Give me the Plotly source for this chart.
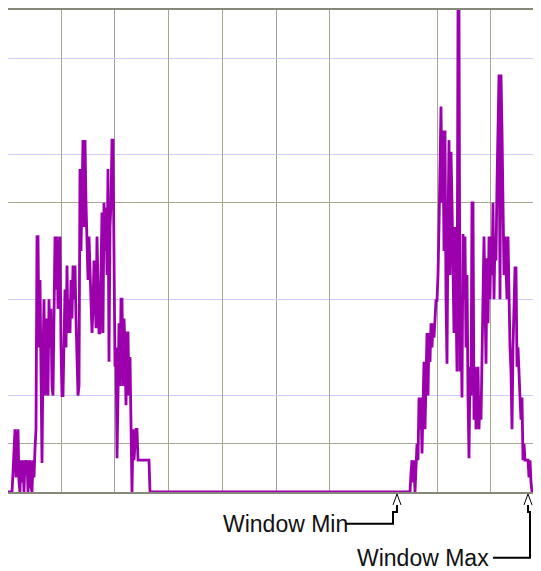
import plotly.graph_objects as go

# ---- data (channel = horizontal bin, count in % of full scale) ----
n_channels = 535
left_start = 5
left_counts = [0, 4, 11, 13, 3, 9, 13, 2, 0, 6.6, 2, 6.6, 0, 6.6, 4, 6.6, 0, 5, 6.6, 1,
               0, 6.6, 3, 9, 13, 53, 53, 30, 44, 25, 6, 28, 40, 20, 36, 26, 20, 40, 30, 38,
               22, 20, 34, 53, 42, 53, 38, 48, 53, 30, 20, 20, 36, 42, 30, 47, 33, 40, 33, 44,
               36, 47, 40, 47, 36, 30, 20, 22, 67, 50, 67, 73, 55, 73, 60, 53, 44, 53, 46, 40,
               33, 38, 48, 42, 34, 53, 40, 33, 33, 50, 58, 33, 60, 50, 59, 45, 67, 27, 55, 60,
               73, 73, 36, 26, 30, 7, 20, 35, 22, 40, 40, 22, 36, 30, 18, 33, 33, 20, 28, 13,
               0, 13, 6.6, 10, 13, 13, 6.6, 6.6, 6.6, 6.6, 6.6, 6.6, 6.6, 6.6, 6.6, 6.6, 6.6, 6.6, 0]
right_start = 403
right_counts = [0, 4, 6.6, 2, 6.6, 0, 6.6, 10, 6.6, 19.6, 13, 19.6, 8, 19.6, 27, 13, 25, 33, 20, 33,
                27, 35, 30, 35, 32, 35, 39.7, 39.7, 45, 55, 69, 80, 60, 75, 50, 75, 40, 26.6, 55, 73,
                45, 70.6, 60, 45, 33, 55, 35, 25, 100, 100, 25, 35, 19.6, 53.5, 40, 53, 30, 45, 20, 7,
                26, 20, 60, 60, 15, 26, 13, 22, 26, 13, 20, 15, 26, 35, 53, 40, 26.6, 48.5, 35, 53,
                40, 53, 45, 60, 40, 53, 48, 64, 82, 86.6, 40, 86.6, 75, 60, 45, 53, 46, 40, 53, 35,
                30, 25, 13, 30, 40, 46.5, 46.5, 26, 30, 22, 19.6, 15, 19.6, 6.6, 10, 6.6, 6.6, 6.6, 6.6, 3,
                6.6, 2, 0]

x_major_grid = [54, 161, 215, 322, 430, 483]
x_minor_grid = [107, 269]
y_major_grid = [10, 60]
y_minor_grid = [20, 40, 70, 90]

window_min = 390
window_max = 521
window_labels = ["Window Min", "Window Max"]

counts = [0.0] * n_channels
for i, v in enumerate(left_counts):
    counts[left_start + i] = v
for i, v in enumerate(right_counts):
    counts[right_start + i] = v
channels = list(range(n_channels))

# page has an 8px body margin; figure occupies page px 8..541 x 8..571
W, H = 533, 563
ML, MT, MR, MB = 0, 0, 0, 79
X0, X1 = 1, n_channels - 1
PLOT_BOTTOM_PAGE = 492
PLOT_H = 484


def py(p):  # page pixel y -> paper y
    return (PLOT_BOTTOM_PAGE - p) / PLOT_H


def pxc(c):  # channel -> paper x
    return (c - X0) / (X1 - X0)


fig = go.Figure()
fig.add_trace(go.Scatter(x=channels, y=counts, mode="lines",
                         line=dict(color="#9c00ac", width=2.8), hoverinfo="skip"))

fig.update_layout(
    width=W, height=H,
    margin=dict(l=ML, r=MR, t=MT, b=MB, pad=0),
    paper_bgcolor="white", plot_bgcolor="white",
    showlegend=False,
    xaxis=dict(range=[X0, X1], showticklabels=False, ticks="",
               tickvals=x_major_grid, showgrid=True, gridcolor="#a6a68e", gridwidth=1,
               minor=dict(tickvals=x_minor_grid, showgrid=True, gridcolor="#9a9ab0", gridwidth=1),
               zeroline=False, showline=True, linecolor="#88887a", linewidth=2, mirror=True),
    yaxis=dict(range=[0, 100], showticklabels=False, ticks="",
               tickvals=y_major_grid, showgrid=True, gridcolor="#a8a890", gridwidth=1,
               minor=dict(tickvals=y_minor_grid, showgrid=True, gridcolor="#ccccff", gridwidth=1),
               zeroline=False, showline=True, linecolor="#88887a", linewidth=2, mirror=False),
)

font = dict(family="Liberation Sans, Arial, sans-serif", size=23, color="#111111")

# Window Min label and connector
fig.add_annotation(text=window_labels[0], x=pxc(window_min - 48), xref="paper", y=py(524), yref="paper",
                   xanchor="right", yanchor="middle", showarrow=False, font=font, borderpad=0)
fig.add_shape(type="path", xref="paper", yref="paper",
              path=(f"M {pxc(window_min-52)},{py(524)} L {pxc(window_min-4)},{py(524)} "
                    f"L {pxc(window_min-4)},{py(512)} L {pxc(window_min)},{py(512)} L {pxc(window_min)},{py(505)}"),
              line=dict(color="black", width=2))
fig.add_shape(type="path", xref="paper", yref="paper",
              path=f"M {pxc(window_min-4)},{py(505)} L {pxc(window_min)},{py(494)} L {pxc(window_min+4)},{py(505)}",
              line=dict(color="black", width=1))

# Window Max label and connector
fig.add_annotation(text=window_labels[1], x=pxc(486 - 3), xref="paper", y=py(558), yref="paper",
                   xanchor="right", yanchor="middle", showarrow=False, font=font, borderpad=0)
fig.add_shape(type="path", xref="paper", yref="paper",
              path=(f"M {pxc(486)},{py(558)} L {pxc(window_max+2)},{py(558)} "
                    f"L {pxc(window_max+2)},{py(512)} L {pxc(window_max)},{py(512)} L {pxc(window_max)},{py(505)}"),
              line=dict(color="black", width=2))
fig.add_shape(type="path", xref="paper", yref="paper",
              path=f"M {pxc(window_max-4)},{py(505)} L {pxc(window_max)},{py(494)} L {pxc(window_max+4)},{py(505)}",
              line=dict(color="black", width=1))

fig.write_html("out.html")
